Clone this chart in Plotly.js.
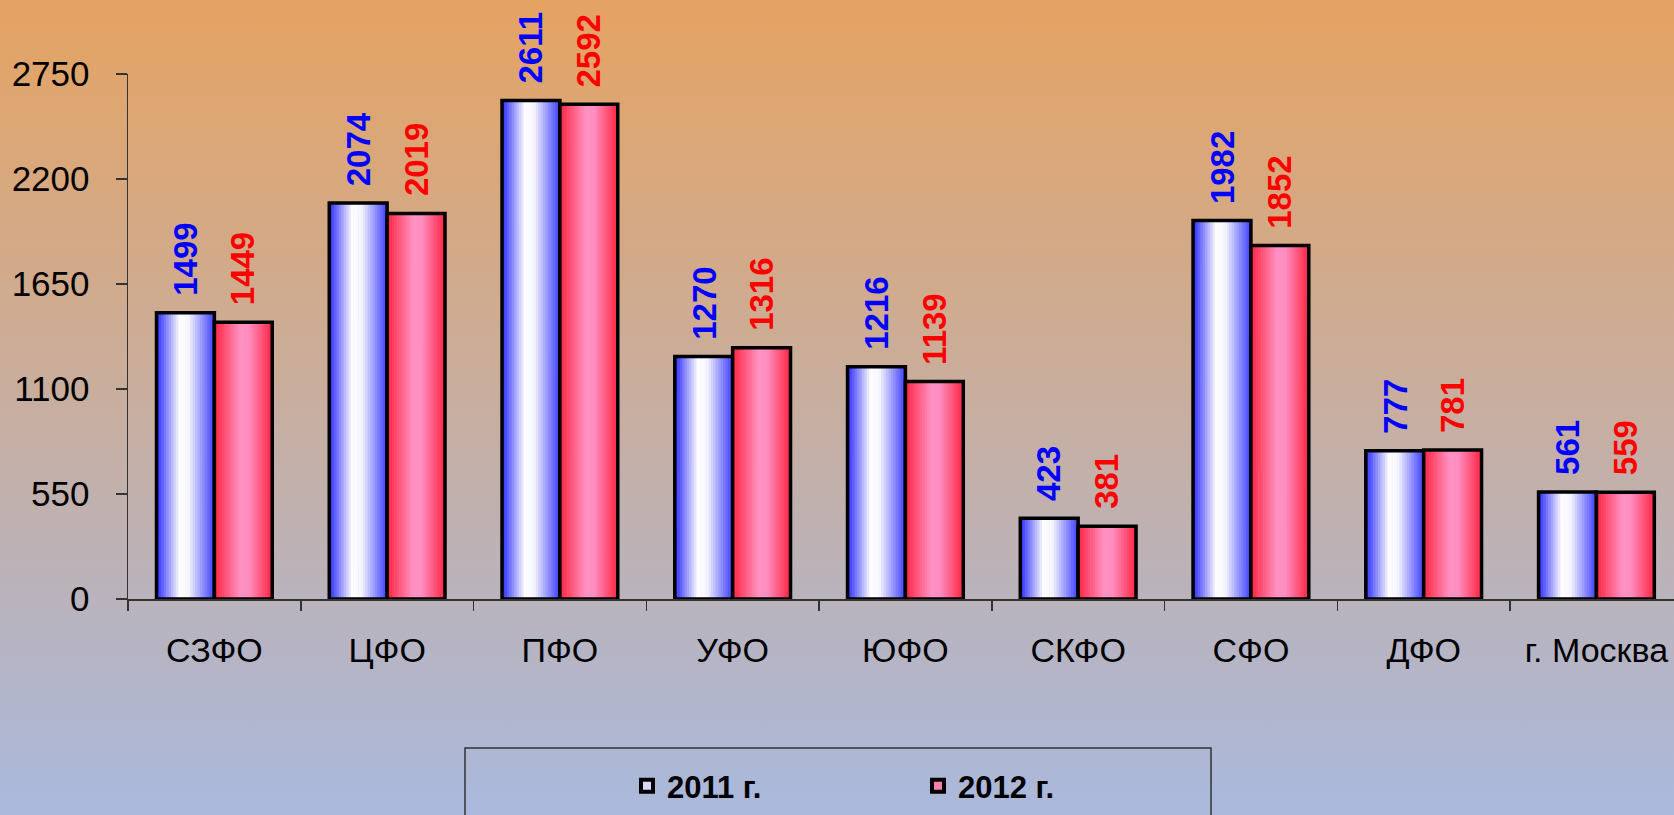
<!DOCTYPE html>
<html>
<head>
<meta charset="utf-8">
<script src="https://cdn.plot.ly/plotly-3.0.1.min.js"></script>
<style>
  html, body { margin: 0; padding: 0; }
  body { width: 1674px; height: 815px; overflow: hidden;
         background: linear-gradient(to bottom, #e5a362 0%, #aab9dd 100%); }
  #chart { width: 1674px; height: 815px; }
</style>
</head>
<body>
<div id="chart"></div>
<script>
const categories = ['СЗФО', 'ЦФО', 'ПФО', 'УФО', 'ЮФО', 'СКФО', 'СФО', 'ДФО', 'г. Москва'];
const values2011 = [1499, 2074, 2611, 1270, 1216, 423, 1982, 777, 561];
const values2012 = [1449, 2019, 2592, 1316, 1139, 381, 1852, 781, 559];
const seriesNames = ['2011 г.', '2012 г.'];
const yTickVals = [0, 550, 1100, 1650, 2200, 2750];

const blueStops = [[0, [40, 40, 255]], [0.4, [255, 255, 255]], [0.56, [244, 244, 255]], [1, [60, 60, 255]]];
const redStops = [[0, [255, 36, 64]], [0.45, [255, 146, 196]], [0.6, [255, 140, 192]], [1, [255, 36, 64]]];

function gradColor(stops, t) {
  for (let i = 0; i < stops.length - 1; i++) {
    const a = stops[i], b = stops[i + 1];
    if (t >= a[0] && t <= b[0]) {
      const f = (t - a[0]) / (b[0] - a[0]);
      const c = a[1].map((v, j) => Math.round(v + (b[1][j] - v) * f));
      return 'rgb(' + c.join(',') + ')';
    }
  }
  const l = stops[stops.length - 1][1];
  return 'rgb(' + l.join(',') + ')';
}

const barW = 0.335;
const N = 24;
const series = [
  { name: seriesNames[0], values: values2011, offset: -barW, stops: blueStops, textColor: '#0000ff', legendColor: '#d8d8ff' },
  { name: seriesNames[1], values: values2012, offset: 0, stops: redStops, textColor: '#ff0000', legendColor: '#ff80ac' }
];

const traces = [];
const annotations = [];
series.forEach(s => {
  for (let k = 0; k < N; k++) {
    traces.push({
      type: 'bar', x: categories, y: s.values,
      offset: s.offset + k * barW / N,
      width: barW / N + (k < N - 1 ? 0.003 : 0),
      marker: { color: gradColor(s.stops, (k + 0.5) / N), line: { width: 0 } },
      showlegend: false, hoverinfo: 'skip'
    });
  }
  traces.push({
    type: 'bar', x: categories, y: s.values, name: s.name,
    offset: s.offset, width: barW,
    marker: { color: 'rgba(0,0,0,0)', line: { color: '#000', width: 3.5 } },
    showlegend: false
  });
  s.values.forEach((v, i) => {
    annotations.push({
      x: i + s.offset + barW / 2, y: v, xref: 'x', yref: 'y',
      text: String(v), textangle: -90, showarrow: false,
      xanchor: 'center', yanchor: 'bottom', yshift: 15,
      font: { family: 'Liberation Sans, Arial, sans-serif', size: 33, color: s.textColor, weight: 'bold' }
    });
  });
});
series.forEach(s => {
  traces.push({
    type: 'bar', x: [null], y: [null], name: s.name,
    marker: { color: s.legendColor, line: { color: '#000', width: 4 } },
    showlegend: true, hoverinfo: 'skip'
  });
});

const layout = {
  width: 1674, height: 815,
  margin: { l: 128, r: 0, t: 74, b: 216 },
  paper_bgcolor: 'rgba(0,0,0,0)', plot_bgcolor: 'rgba(0,0,0,0)',
  barmode: 'overlay',
  font: { family: 'Liberation Sans, Arial, sans-serif', color: '#000' },
  xaxis: {
    type: 'category', range: [-0.5, 8.449],
    tickson: 'boundaries', ticks: 'outside', ticklen: 10, tickwidth: 1.5, tickcolor: '#333',
    showline: true, linecolor: '#333', linewidth: 1.5, showgrid: false,
    tickfont: { size: 34, color: '#000' }, ticklabelstandoff: 21
  },
  yaxis: {
    range: [0, 2750], tickmode: 'array', tickvals: yTickVals,
    ticks: 'outside', ticklen: 11, tickwidth: 1.5, tickcolor: '#333',
    showline: true, linecolor: '#333', linewidth: 1.5, showgrid: false, zeroline: false,
    tickfont: { size: 35, color: '#000' }, ticklabelstandoff: 19
  },
  showlegend: true,
  legend: {
    orientation: 'h', x: (627 - 128) / 1546, y: (599 - 786) / 525, xanchor: 'left', yanchor: 'middle',
    bgcolor: 'rgba(0,0,0,0)', borderwidth: 0,
    entrywidth: 246, entrywidthmode: 'pixels', itemwidth: 30, traceorder: 'normal',
    font: { family: 'Liberation Sans, Arial, sans-serif', size: 31, color: '#000', weight: 'bold' }
  },
  shapes: [{
    type: 'rect', xref: 'paper', yref: 'paper',
    x0: (465 - 128) / 1546, x1: (1211 - 128) / 1546,
    y0: (599 - 748) / 525, y1: (599 - 840) / 525,
    line: { color: '#333', width: 1.5 }, fillcolor: 'rgba(0,0,0,0)'
  }],
  annotations: annotations
};

Plotly.newPlot('chart', traces, layout, { staticPlot: true, displayModeBar: false });
</script>
</body>
</html>
